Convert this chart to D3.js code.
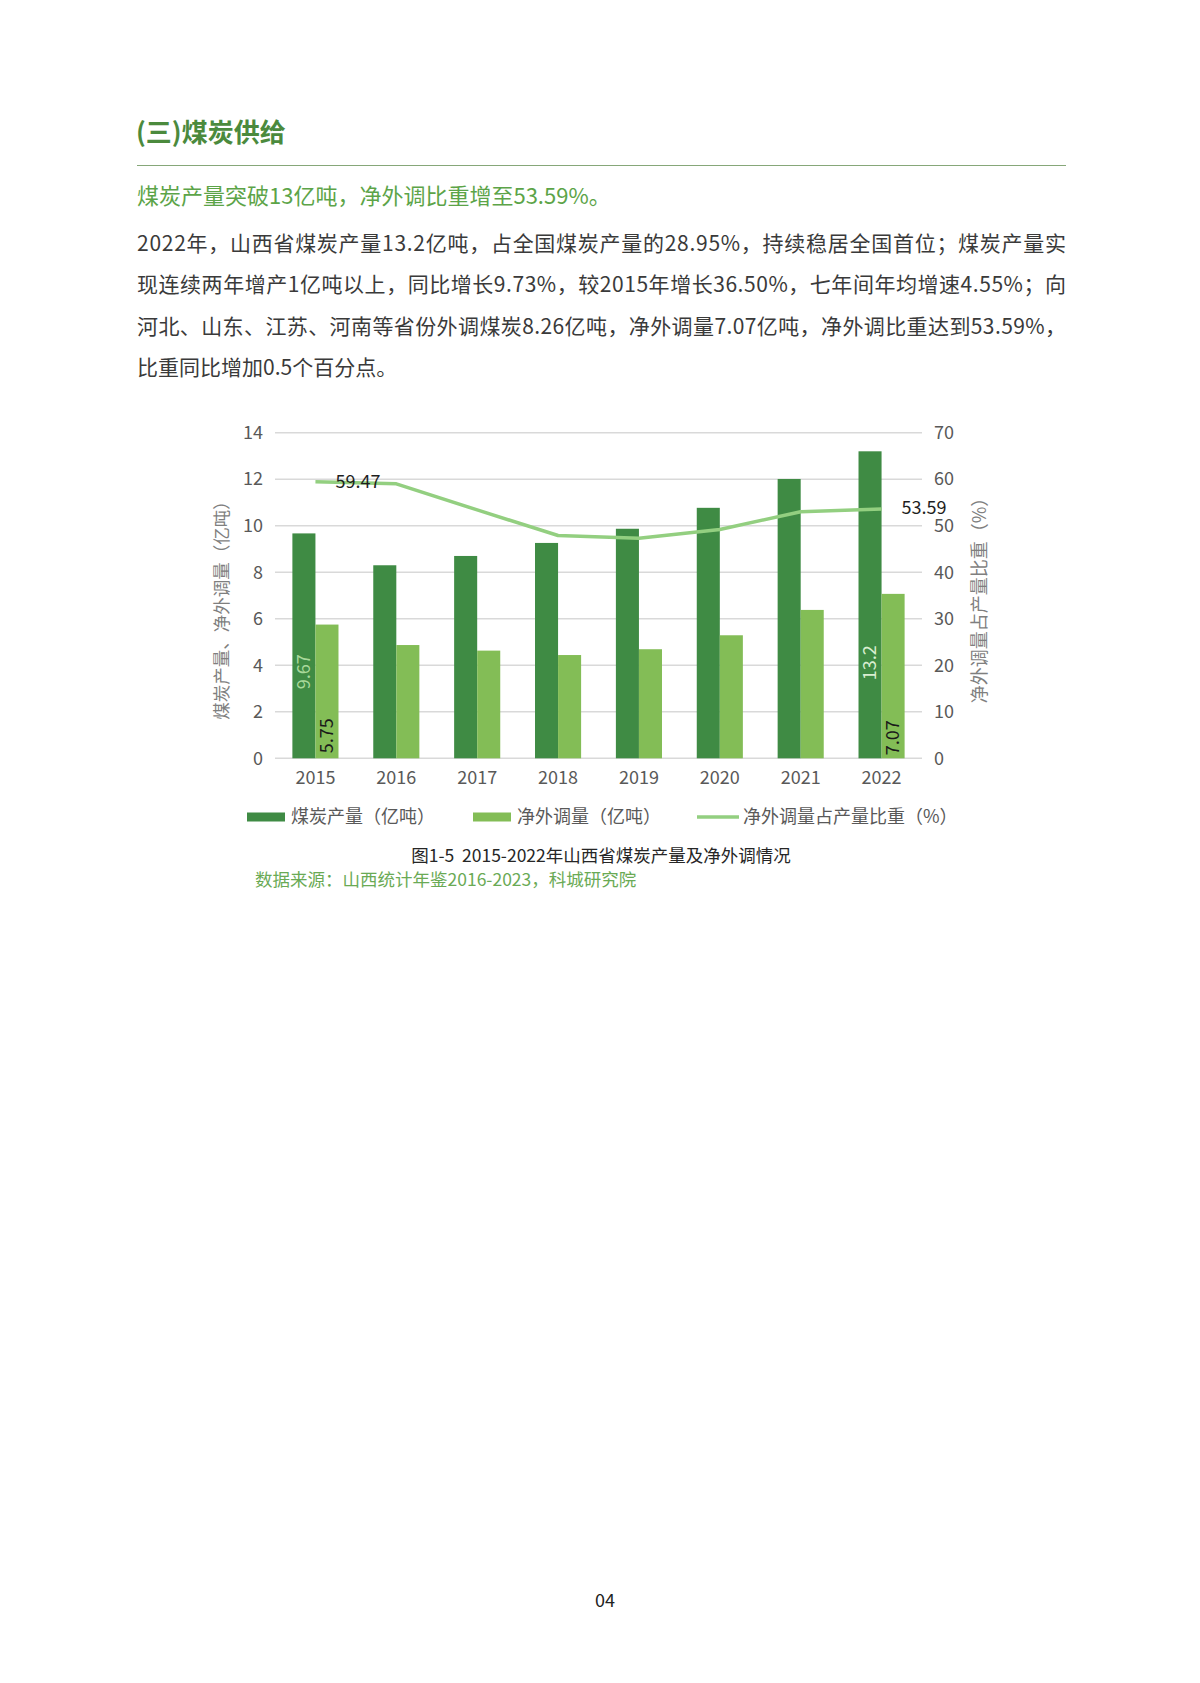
<!DOCTYPE html>
<html>
<head>
<meta charset="utf-8">
<script src="https://cdn.jsdelivr.net/npm/d3@7"></script>
<style>
  body { margin: 0; background: #fff; }
  svg text { font-family: "Noto Sans CJK SC", "Noto Sans", sans-serif; }
</style>
</head>
<body>
<script>
// Chart data
const years = ["2015", "2016", "2017", "2018", "2019", "2020", "2021", "2022"];
const coalOutput = [9.67, 8.30, 8.70, 9.26, 9.87, 10.77, 12.01, 13.2];   // 亿吨
const netOutflow = [5.75, 4.87, 4.63, 4.44, 4.69, 5.29, 6.38, 7.07];    // 亿吨
const outflowShare = [59.47, 59.0, 53.4, 47.9, 47.3, 49.2, 53.0, 53.59]; // %
const leftTicks = [0, 2, 4, 6, 8, 10, 12, 14];
const rightTicks = [0, 10, 20, 30, 40, 50, 60, 70];
const seriesNames = ["煤炭产量（亿吨）", "净外调量（亿吨）", "净外调量占产量比重（%）"];

// Page text
const heading = "(三)煤炭供给";
const subheading = "煤炭产量突破13亿吨，净外调比重增至53.59%。";
const bodyLines = [
  "2022年，山西省煤炭产量13.2亿吨，占全国煤炭产量的28.95%，持续稳居全国首位；煤炭产量实",
  "现连续两年增产1亿吨以上，同比增长9.73%，较2015年增长36.50%，七年间年均增速4.55%；向",
  "河北、山东、江苏、河南等省份外调煤炭8.26亿吨，净外调量7.07亿吨，净外调比重达到53.59%，",
  "比重同比增加0.5个百分点。"
];
const caption = "图1-5\u00a0\u00a02015-2022年山西省煤炭产量及净外调情况";
const source = "数据来源：山西统计年鉴2016-2023，科城研究院";

const darkGreen = "#3f8b44", lightGreen = "#83bd56", lineGreen = "#93cf80";
const axisGray = "#595959", gridGray = "#d9d9d9";

const svg = d3.select("body").append("svg")
    .attr("width", 1200)
    .attr("height", 1683);

// ---- page header ----
svg.append("text")
    .attr("x", 136).attr("y", 142)
    .attr("font-size", 26).attr("font-weight", "bold")
    .attr("fill", "#4b8a3d")
    .text(heading);

svg.append("line")
    .attr("x1", 137).attr("x2", 1066)
    .attr("y1", 165.5).attr("y2", 165.5)
    .attr("stroke", "#86a779").attr("stroke-width", 1.2);

svg.append("text")
    .attr("x", 137).attr("y", 204)
    .attr("font-size", 22)
    .attr("fill", "#5ca448")
    .text(subheading);

svg.selectAll(".body-line")
    .data(bodyLines)
    .enter().append("text")
    .attr("class", "body-line")
    .attr("x", 137)
    .attr("y", (d, i) => 251 + i * 41.3)
    .attr("font-size", 21)
    .attr("fill", "#3a3a3a")
    .each(function(d, i) {
        if (i < bodyLines.length - 1) {
            d3.select(this).attr("textLength", 929).attr("lengthAdjust", "spacing");
        }
    })
    .text(d => d);

// ---- chart ----
const plot = { left: 275, right: 922, top: 432.7, bottom: 758.3 };

const x0 = d3.scaleBand().domain(years)
    .range([plot.left, plot.right])
    .paddingInner(0.43).paddingOuter(0.215);
const x1 = d3.scaleBand().domain(["coal", "net"]).range([0, x0.bandwidth()]);
const yL = d3.scaleLinear().domain([0, 14]).range([plot.bottom, plot.top]);
const yR = d3.scaleLinear().domain([0, 70]).range([plot.bottom, plot.top]);

// gridlines
svg.append("g")
  .selectAll("line")
  .data(leftTicks)
  .enter().append("line")
    .attr("x1", plot.left).attr("x2", plot.right)
    .attr("y1", d => yL(d)).attr("y2", d => yL(d))
    .attr("stroke", gridGray).attr("stroke-width", 1.5);

function styleTicks(g) {
    g.select(".domain").remove();
    g.selectAll("text")
        .attr("font-size", 18).attr("fill", axisGray)
        .style("font-family", '"Noto Sans CJK SC", sans-serif');
}

// left axis
svg.append("g")
    .attr("transform", `translate(${plot.left},0)`)
    .call(d3.axisLeft(yL).tickValues(leftTicks).tickSize(0).tickPadding(12))
    .call(styleTicks);

// right axis
svg.append("g")
    .attr("transform", `translate(${plot.right},0)`)
    .call(d3.axisRight(yR).tickValues(rightTicks).tickSize(0).tickPadding(12))
    .call(styleTicks);

// bottom axis labels
svg.append("g")
    .attr("transform", `translate(0,${plot.bottom})`)
    .call(d3.axisBottom(x0).tickSize(0).tickPadding(13))
    .call(styleTicks);

// bars
const rows = years.map((y, i) => ({ year: y, coal: coalOutput[i], net: netOutflow[i], share: outflowShare[i] }));

svg.append("g").selectAll("rect")
    .data(rows)
    .enter().append("rect")
    .attr("x", d => x0(d.year) + x1("coal"))
    .attr("y", d => yL(d.coal))
    .attr("width", x1.bandwidth())
    .attr("height", d => plot.bottom - yL(d.coal))
    .attr("fill", darkGreen);

svg.append("g").selectAll("rect")
    .data(rows)
    .enter().append("rect")
    .attr("x", d => x0(d.year) + x1("net"))
    .attr("y", d => yL(d.net))
    .attr("width", x1.bandwidth())
    .attr("height", d => plot.bottom - yL(d.net))
    .attr("fill", lightGreen);

// share line
const line = d3.line()
    .x(d => x0(d.year) + x0.bandwidth() / 2)
    .y(d => yR(d.share));

svg.append("path")
    .datum(rows)
    .attr("d", line)
    .attr("fill", "none")
    .attr("stroke", lineGreen)
    .attr("stroke-width", 3.5)
    .attr("stroke-linejoin", "round");

// rotated bar labels (first and last year only)
const barLabels = [
    { year: "2015", key: "coal", fill: "#a9d99b", lift: 69 },
    { year: "2015", key: "net", fill: "#1a1a1a", lift: 5 },
    { year: "2022", key: "coal", fill: "#d9eed0", lift: 78 },
    { year: "2022", key: "net", fill: "#1a1a1a", lift: 3 }
];
svg.append("g").selectAll("text")
    .data(barLabels)
    .enter().append("text")
    .attr("transform", d => {
        const cx = x0(d.year) + x1(d.key) + x1.bandwidth() / 2;
        return `translate(${cx},${yL(0) - d.lift}) rotate(-90)`;
    })
    .attr("dy", "0.35em")
    .attr("font-size", 18)
    .attr("fill", d => d.fill)
    .text(d => {
        const i = years.indexOf(d.year);
        return d.key === "coal" ? String(coalOutput[i]) : netOutflow[i].toFixed(2);
    });

// line labels
const lineLabels = [{ year: "2015", dy: "0.35em" }, { year: "2022", dy: "0.25em" }];
svg.append("g").selectAll("text")
    .data(lineLabels)
    .enter().append("text")
    .attr("x", d => x0(d.year) + x0.bandwidth() / 2 + 20)
    .attr("y", d => yR(outflowShare[years.indexOf(d.year)]))
    .attr("dy", d => d.dy)
    .attr("font-size", 18)
    .attr("fill", "#1f1f1f")
    .text(d => outflowShare[years.indexOf(d.year)].toFixed(2));

// axis titles
svg.append("text")
    .attr("transform", "translate(222,606) rotate(-90)")
    .attr("text-anchor", "middle").attr("dy", "0.35em")
    .attr("font-size", 17.5).attr("fill", "#7f7f7f")
    .text("煤炭产量、净外调量（亿吨）");

svg.append("text")
    .attr("transform", "translate(980,596) rotate(-90)")
    .attr("text-anchor", "middle").attr("dy", "0.35em")
    .attr("font-size", 18).attr("fill", "#7f7f7f")
    .text("净外调量占产量比重（%）");

// legend
const legendY = 817;
const legend = svg.append("g");
const legendItems = [
    { x: 247, name: seriesNames[0], type: "rect", color: darkGreen },
    { x: 473, name: seriesNames[1], type: "rect", color: lightGreen },
    { x: 697, name: seriesNames[2], type: "line", color: lineGreen }
];
legendItems.forEach(it => {
    if (it.type === "rect") {
        legend.append("rect")
            .attr("x", it.x).attr("y", legendY - 4.5)
            .attr("width", 38).attr("height", 9)
            .attr("fill", it.color);
    } else {
        legend.append("line")
            .attr("x1", it.x).attr("x2", it.x + 42)
            .attr("y1", legendY).attr("y2", legendY)
            .attr("stroke", it.color).attr("stroke-width", 3.5);
    }
    legend.append("text")
        .attr("x", it.x + (it.type === "rect" ? 44 : 46))
        .attr("y", legendY).attr("dy", "0.35em")
        .attr("font-size", 18).attr("fill", axisGray)
        .text(it.name);
});

// caption & source
svg.append("text")
    .attr("x", 601).attr("y", 856).attr("dy", "0.35em")
    .attr("text-anchor", "middle")
    .attr("font-size", 17.5).attr("fill", "#262626")
    .text(caption);

svg.append("text")
    .attr("x", 255).attr("y", 880).attr("dy", "0.35em")
    .attr("font-size", 17.5).attr("fill", "#6aaa55")
    .text(source);

// page number
svg.append("text")
    .attr("x", 605).attr("y", 1601).attr("dy", "0.35em")
    .attr("text-anchor", "middle")
    .attr("font-size", 18).attr("fill", "#222")
    .text("04");
</script>
</body>
</html>
